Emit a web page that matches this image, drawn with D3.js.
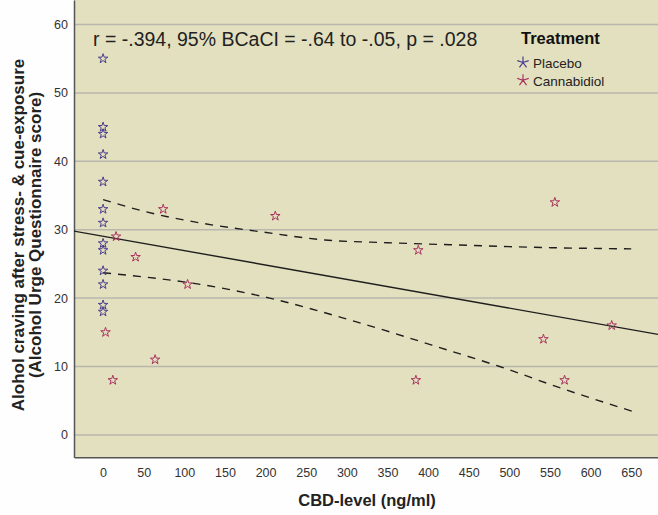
<!DOCTYPE html>
<html>
<head>
<meta charset="utf-8">
<script src="https://cdn.jsdelivr.net/npm/d3@7"></script>
<style>
  body { margin: 0; background: #fefefe; }
  svg text { font-family: "Liberation Sans", Arial, sans-serif; }
</style>
</head>
<body>
<div id="chart"></div>
<script>
const width = 658;
const height = 515;
const margin = { top: 0, right: 0, bottom: 57.7, left: 74 };

// placebo group (all CBD-level 0)
const placeboX = [0, 0, 0, 0, 0, 0, 0, 0, 0, 0, 0, 0, 0];
const placeboY = [55, 45, 44, 41, 37, 33, 31, 28, 27, 24, 22, 19, 18];

// cannabidiol group
const cbdX = [3, 12, 16, 40, 64, 74, 104, 212, 388, 385, 542, 568, 556, 626];
const cbdY = [15, 8, 29, 26, 11, 33, 22, 32, 27, 8, 14, 8, 34, 16];

// fit line and 95% band
const fitX = [-36, 683];
const fitY = [29.8, 14.7];
const upperX = [0, 50, 119, 194, 273, 350, 427, 540, 650];
const upperY = [34.4, 32.7, 31.0, 29.7, 28.5, 28.1, 27.8, 27.4, 27.2];
const lowerX = [0, 50, 104, 205, 304, 427, 488, 567, 653];
const lowerY = [23.7, 23.1, 22.3, 20.0, 16.8, 12.3, 10.0, 6.7, 3.4];

const xTicks = [0, 50, 100, 150, 200, 250, 300, 350, 400, 450, 500, 550, 600, 650];
const yTicks = [0, 10, 20, 30, 40, 50, 60];

const groups = ['Placebo', 'Cannabidiol'];
const colors = ['#4a3d8c', '#a8345f'];

const svg = d3.select('#chart')
    .append('svg')
    .attr('width', width)
    .attr('height', height);

const x = d3.scaleLinear()
    .domain([-35.8, 683])
    .range([margin.left, width - margin.right]);

const y = d3.scaleLinear()
    .domain([-3.27, 63.58])
    .range([height - margin.bottom, margin.top]);

svg.append('defs').append('clipPath')
    .attr('id', 'plot-clip')
  .append('rect')
    .attr('x', margin.left)
    .attr('y', margin.top)
    .attr('width', width - margin.left - margin.right)
    .attr('height', height - margin.top - margin.bottom);

svg.append('rect')
    .attr('x', margin.left)
    .attr('y', margin.top)
    .attr('width', width - margin.left - margin.right)
    .attr('height', height - margin.top - margin.bottom)
    .attr('fill', '#e3e0bf');

// horizontal grid
svg.append('g')
    .selectAll('line')
    .data(yTicks)
    .join('line')
      .attr('x1', margin.left)
      .attr('x2', width - margin.right)
      .attr('y1', d => y(d))
      .attr('y2', d => y(d))
      .attr('stroke', '#b9b7ad')
      .attr('stroke-width', 1.5);

// axes
svg.append('g')
    .attr('transform', `translate(0, ${height - margin.bottom})`)
    .call(d3.axisBottom(x).tickValues(xTicks).tickSize(0).tickPadding(8))
    .call(g => g.select('.domain').attr('stroke', '#555').attr('stroke-width', 1.5))
    .call(g => g.selectAll('text').attr('font-size', '12.5px').attr('fill', '#333').attr('dy', '0.9em'));

svg.append('g')
    .attr('transform', `translate(${margin.left}, 0)`)
    .call(d3.axisLeft(y).tickValues(yTicks).tickSize(0).tickPadding(6))
    .call(g => g.select('.domain').attr('stroke', '#555').attr('stroke-width', 1.5))
    .call(g => g.selectAll('text').attr('font-size', '12.5px').attr('fill', '#333'));

const plot = svg.append('g').attr('clip-path', 'url(#plot-clip)');

const line = d3.line().x(d => x(d[0])).y(d => y(d[1]));
const smooth = d3.line().curve(d3.curveMonotoneX).x(d => x(d[0])).y(d => y(d[1]));

plot.append('path')
    .attr('d', line(d3.zip(fitX, fitY)))
    .attr('fill', 'none')
    .attr('stroke', '#1e1e1e')
    .attr('stroke-width', 1.4);

[d3.zip(upperX, upperY), d3.zip(lowerX, lowerY)].forEach(band => {
  plot.append('path')
      .attr('d', smooth(band))
      .attr('fill', 'none')
      .attr('stroke', '#1e1e1e')
      .attr('stroke-width', 1.4)
      .attr('stroke-dasharray', '8,7');
});

// star markers
const star = d3.symbol().type(d3.symbolStar).size(28);
const points = [
  ...d3.zip(placeboX, placeboY).map(d => ({ x: d[0], y: d[1], g: 0 })),
  ...d3.zip(cbdX, cbdY).map(d => ({ x: d[0], y: d[1], g: 1 }))
];

plot.append('g')
    .selectAll('path')
    .data(points)
    .join('path')
      .attr('transform', d => `translate(${x(d.x)}, ${y(d.y)})`)
      .attr('d', star)
      .attr('fill', 'none')
      .attr('stroke', d => colors[d.g])
      .attr('stroke-width', 1);

// annotation
svg.append('text')
    .attr('x', 93)
    .attr('y', 46)
    .attr('font-size', '19.5px')
    .attr('fill', '#222')
    .text('r = -.394, 95% BCaCI = -.64 to -.05, p = .028');

// legend
const legend = svg.append('g');
legend.append('text')
    .attr('x', 521)
    .attr('y', 44)
    .attr('font-size', '16.5px')
    .attr('font-weight', 'bold')
    .attr('fill', '#111')
    .text('Treatment');

const asterisk = d3.range(5).map(i => {
  const a = -Math.PI / 2 + i * 2 * Math.PI / 5;
  return `M0,0L${(6 * Math.cos(a)).toFixed(2)},${(6 * Math.sin(a)).toFixed(2)}`;
}).join('');

groups.forEach((name, i) => {
  const cy = 62.5 + i * 17.7;
  legend.append('path')
      .attr('transform', `translate(523, ${cy})`)
      .attr('d', asterisk)
      .attr('stroke', colors[i])
      .attr('stroke-width', 1.2);
  legend.append('text')
      .attr('x', 533)
      .attr('y', cy + 5.5)
      .attr('font-size', '13.5px')
      .attr('fill', '#222')
      .text(name);
});

// axis titles
svg.append('text')
    .attr('x', 367)
    .attr('y', 506)
    .attr('text-anchor', 'middle')
    .attr('font-size', '16.5px')
    .attr('font-weight', 'bold')
    .attr('fill', '#222')
    .text('CBD-level (ng/ml)');

const yTitle = svg.append('text')
    .attr('transform', 'translate(0, 235) rotate(-90)')
    .attr('text-anchor', 'middle')
    .attr('font-size', '17px')
    .attr('font-weight', 'bold')
    .attr('fill', '#222');
yTitle.append('tspan').attr('x', 0).attr('y', 24).text('Alohol craving after stress- & cue-exposure');
yTitle.append('tspan').attr('x', 0).attr('y', 41).text('(Alcohol Urge Questionnaire score)');
</script>
</body>
</html>
